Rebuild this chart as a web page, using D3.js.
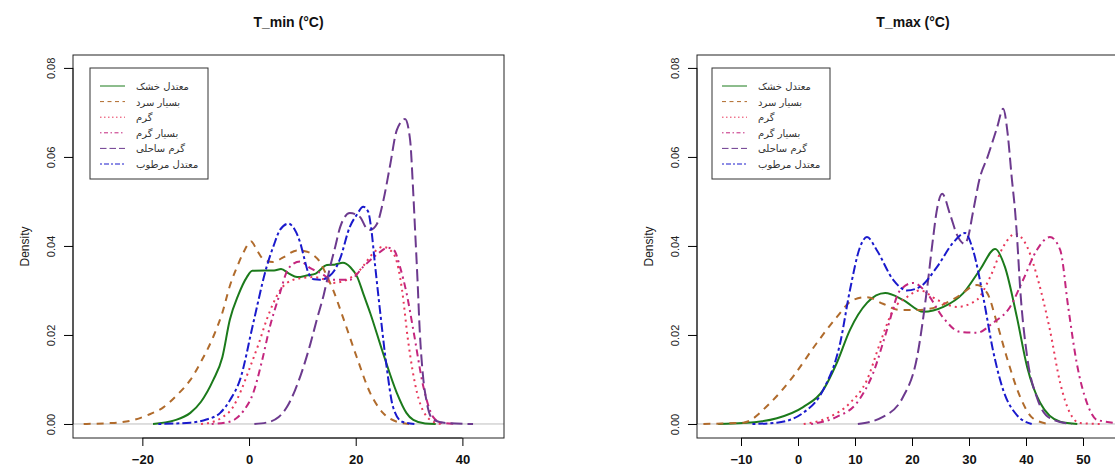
<!DOCTYPE html>
<html>
<head>
<meta charset="utf-8">
<script src="https://cdn.jsdelivr.net/npm/d3@7"></script>
<style>
  body { margin: 0; background: #fff; }
  svg { font-family: "Liberation Sans", Arial, sans-serif; }
</style>
</head>
<body>
<div id="container"></div>
<script>
// legend labels (same order in both panels)
const seriesNames = ['معتدل خشک', 'بسیار سرد', 'گرم', 'بسیار گرم', 'گرم ساحلی', 'معتدل مرطوب'];

// T_min densities, [temperature, density]
const tminKhoshk = [[-18,0],[-14,0.0008],[-11,0.0025],[-9,0.005],[-6.7,0.0099],[-5,0.015],[-3.6,0.0234],[-2,0.029],[-0.4,0.033],[0.6,0.0344],[3,0.0345],[4.7,0.0345],[6,0.0348],[7.5,0.0338],[9,0.033],[11,0.0334],[12.5,0.0338],[14.6,0.0357],[16,0.0358],[17.6,0.0362],[19,0.0352],[20.3,0.033],[21.5,0.029],[22.7,0.025],[25.1,0.016],[27.7,0.007],[29.5,0.0025],[30.8,0.0009],[33,0.0001],[35,0]];
const tminSard = [[-31,0],[-26,0.0002],[-22,0.0008],[-19,0.002],[-16,0.0038],[-13.5,0.0065],[-11,0.0099],[-9,0.014],[-6.7,0.0196],[-5,0.025],[-3.6,0.031],[-2,0.036],[-1.1,0.0384],[0.4,0.041],[1.5,0.039],[2.7,0.037],[4.5,0.0364],[6.5,0.0375],[9,0.039],[10.9,0.0387],[12,0.038],[13.3,0.0364],[14.5,0.0335],[15.8,0.03],[17.6,0.024],[20.2,0.015],[22.7,0.007],[25.1,0.0025],[27.7,0.0005],[30,0]];
const tminGarm = [[-9,0],[-6.7,0.0005],[-5,0.0015],[-3,0.0038],[-1.5,0.0075],[0.2,0.0128],[1.8,0.018],[3.3,0.0234],[4.5,0.027],[5.8,0.03],[8.3,0.0324],[10,0.0328],[12.1,0.033],[14,0.0325],[15.8,0.0317],[18.3,0.0324],[20.8,0.0346],[23.3,0.0384],[25.1,0.0398],[27,0.0384],[28,0.035],[28.7,0.03],[29.8,0.0189],[31.5,0.007],[34,0.0009],[36,0]];
const tminBesyarGarm = [[-7,0],[-4,0.0004],[-2.7,0.001],[-1,0.003],[0.8,0.007],[2.4,0.014],[3.9,0.0218],[5.8,0.0294],[7,0.034],[8.3,0.036],[9.6,0.0365],[11.5,0.035],[13.3,0.034],[15.8,0.0324],[18.9,0.0324],[21.4,0.0353],[23.9,0.038],[26,0.0396],[27.2,0.039],[28.3,0.0353],[29.6,0.029],[30.8,0.0211],[32.7,0.0083],[34.5,0.0016],[36,0.0003],[39,0]];
const tminSaheli = [[1,0],[3.9,0.0005],[5.5,0.0015],[7.1,0.0038],[8.6,0.0075],[10.2,0.0128],[11.5,0.018],[12.7,0.0234],[14,0.029],[15.2,0.0353],[16.2,0.04],[17.1,0.0443],[18.9,0.0474],[20.8,0.0465],[22,0.044],[22.7,0.0436],[24,0.045],[25.2,0.0503],[26.4,0.0578],[27.7,0.066],[29.25,0.0685],[30.2,0.0638],[30.7,0.054],[31.1,0.0443],[31.6,0.032],[32,0.021],[32.6,0.011],[33.3,0.005],[34.5,0.001],[37,0.0002],[42,0]];
const tminMartoob = [[-17,0],[-11,0.0003],[-8,0.001],[-5.4,0.0025],[-3.5,0.0055],[-1.7,0.0099],[0.8,0.0227],[3.3,0.0353],[4.6,0.04],[5.8,0.0436],[7.4,0.045],[8.5,0.0438],[9.6,0.0407],[10.4,0.037],[11.1,0.034],[12.2,0.0325],[13.3,0.0324],[14.8,0.033],[16,0.0345],[17,0.0369],[18.9,0.0443],[20.2,0.047],[21.4,0.0488],[22.3,0.0478],[22.9,0.044],[23.6,0.036],[24.6,0.025],[25.8,0.0128],[27,0.0038],[28.7,0.0005],[31,0]];

// T_max densities, [temperature, density]
const tmaxKhoshk = [[-14,0],[-9.6,0.0002],[-3.7,0.0013],[0.9,0.0038],[4.4,0.0076],[6.8,0.0137],[9.1,0.0211],[12.1,0.0272],[15.3,0.0294],[18.4,0.0279],[22,0.0252],[25.5,0.0263],[29,0.0294],[31.9,0.0346],[34.6,0.0393],[36.3,0.0353],[38.4,0.024],[40.2,0.0128],[42.5,0.0047],[46,0.0005],[49,0]];
const tmaxSard = [[-16.6,0],[-9.6,0.0003],[-4.9,0.0047],[-0.9,0.0106],[3.3,0.0182],[6.8,0.024],[9.7,0.0279],[12.1,0.0285],[14.9,0.027],[17.9,0.0256],[20.9,0.0256],[24.4,0.0263],[27.9,0.0285],[31.4,0.0312],[33.2,0.0294],[34.9,0.0227],[36.6,0.0151],[39,0.006],[41.2,0.0013],[44,0]];
const tmaxGarm = [[1,0],[5.6,0.0016],[9.1,0.0047],[12.1,0.0099],[14.4,0.0182],[16.7,0.0256],[19.1,0.0285],[21.4,0.03],[24.4,0.0279],[27.9,0.0263],[31.4,0.0279],[33.7,0.033],[36,0.0398],[38.1,0.0427],[40.2,0.0398],[42.1,0.0324],[44.2,0.0211],[46,0.0092],[47.7,0.0025],[49.5,0.0002],[53,0]];
const tmaxBesyarGarm = [[2.3,0],[6.8,0.0016],[10.3,0.0047],[13.2,0.0115],[15.6,0.0211],[17.9,0.03],[20.2,0.0317],[22.6,0.0294],[25.4,0.024],[28.4,0.0207],[31.4,0.0205],[34.2,0.0227],[37.2,0.0263],[39.5,0.0324],[41.9,0.0391],[44.2,0.042],[46,0.0391],[47.4,0.0263],[48.9,0.0137],[50.7,0.0047],[52.5,0.0009],[58,0]];
const tmaxSaheli = [[10.5,0],[14.9,0.0016],[18.4,0.006],[20.9,0.0151],[22.6,0.03],[23.7,0.0418],[24.3,0.0476],[25.3,0.0517],[26.7,0.047],[27.9,0.0425],[29.2,0.0405],[29.8,0.0418],[30.7,0.0476],[31.9,0.0553],[33.2,0.0598],[34.9,0.0665],[36,0.0708],[36.8,0.065],[37.5,0.0553],[38.1,0.0476],[38.4,0.0425],[39,0.03],[40.2,0.0151],[41.9,0.006],[44.2,0.0013],[48,0]];
const tmaxMartoob = [[-8,0],[-3.7,0.0003],[0.9,0.0025],[4.4,0.0076],[7.4,0.0182],[9.1,0.03],[10.9,0.0398],[12.1,0.042],[13.8,0.0391],[16.7,0.0324],[19.1,0.03],[21.4,0.0308],[24.4,0.0353],[27.2,0.0407],[29.3,0.0429],[30.7,0.0391],[32.5,0.0285],[34.2,0.0166],[36,0.0076],[38.4,0.002],[41,0]];

const xTicksMin = [-20, 0, 20, 40];
const xTicksMax = [-10, 0, 10, 20, 30, 40, 50];
const yTicks = [0, 0.02, 0.04, 0.06, 0.08];

const styles = [
  { color: '#1b7a1b', dash: null },
  { color: '#b06b2c', dash: [7, 6] },
  { color: '#e8385a', dash: [2, 4] },
  { color: '#c4267e', dash: [2, 4, 7, 4] },
  { color: '#6c3a8e', dash: [12, 5] },
  { color: '#1a1acc', dash: [3, 3, 9, 3] }
];

const svg = d3.select('#container')
              .append('svg')
              .attr('width', 1115)
              .attr('height', 470);

function drawPanel(opts) {
    const x = d3.scaleLinear().domain(opts.xDomain).range([opts.left, opts.right]);
    const y = d3.scaleLinear().domain([-0.00315, 0.0829]).range([438, 55]);

    const g = svg.append('g');

    // zero line
    g.append('line')
     .attr('x1', opts.left).attr('x2', opts.right)
     .attr('y1', y(0)).attr('y2', y(0))
     .attr('stroke', '#bebebe').attr('stroke-width', 1);

    const line = d3.line()
                   .x(d => x(d[0]))
                   .y(d => y(d[1]))
                   .curve(d3.curveMonotoneX);

    g.selectAll('path.dens')
     .data(opts.series)
     .enter()
     .append('path')
     .attr('class', 'dens')
     .attr('d', d => line(d))
     .attr('fill', 'none')
     .attr('stroke', (d, i) => styles[i].color)
     .attr('stroke-width', 2)
     .attr('stroke-dasharray', (d, i) => styles[i].dash ? styles[i].dash.join(',') : null);

    // box
    g.append('rect')
     .attr('x', opts.left).attr('y', 55)
     .attr('width', opts.right - opts.left).attr('height', 383)
     .attr('fill', 'none').attr('stroke', '#222').attr('stroke-width', 1);

    const xAxis = g.append('g')
                   .attr('transform', 'translate(0,438)')
                   .call(d3.axisBottom(x).tickValues(opts.xTicks).tickSize(8).tickPadding(9).tickFormat(d3.format('d')));
    xAxis.select('.domain').attr('stroke', '#222')
         .attr('d', `M${x(opts.xTicks[0])},0H${x(opts.xTicks[opts.xTicks.length - 1])}`);
    xAxis.selectAll('text').attr('font-size', 13).attr('font-weight', 'bold').attr('fill', '#111')
         .attr('font-family', '"Liberation Sans", Arial, sans-serif');

    const yAxis = g.append('g')
                   .attr('transform', `translate(${opts.left},0)`)
                   .call(d3.axisLeft(y).tickValues(yTicks).tickSize(9).tickFormat(d3.format('.2f')));
    yAxis.select('.domain').attr('stroke', '#222').attr('d', `M0,${y(0)}V${y(0.08)}`);
    yAxis.selectAll('text')
         .attr('font-size', 11).attr('fill', '#222')
         .attr('font-family', '"Liberation Sans", Arial, sans-serif')
         .attr('text-anchor', 'middle')
         .attr('transform', 'translate(-22,0) rotate(-90)')
         .attr('x', 0).attr('y', 0).attr('dy', '0.35em');

    g.append('text')
     .attr('transform', `translate(${opts.left - 44},${(55 + 438) / 2}) rotate(-90)`)
     .attr('text-anchor', 'middle')
     .attr('font-size', 12)
     .attr('fill', '#222')
     .text('Density');

    g.append('text')
     .attr('x', (opts.left + opts.right) / 2)
     .attr('y', 27)
     .attr('text-anchor', 'middle')
     .attr('font-size', 14)
     .attr('font-weight', 'bold')
     .attr('fill', '#111')
     .text(opts.title);

    // legend
    const lx = opts.legendX;
    const legend = g.append('g');
    legend.append('rect')
          .attr('x', lx).attr('y', 68)
          .attr('width', 118).attr('height', 111)
          .attr('fill', '#fff').attr('stroke', '#333').attr('stroke-width', 1);
    const rows = legend.selectAll('g.item')
                       .data(seriesNames)
                       .enter()
                       .append('g')
                       .attr('class', 'item')
                       .attr('transform', (d, i) => `translate(0,${86 + i * 15.6})`);
    rows.append('line')
        .attr('x1', lx + 10).attr('x2', lx + 35)
        .attr('y1', 0).attr('y2', 0)
        .attr('stroke', (d, i) => styles[i].color)
        .attr('stroke-width', 1)
        .attr('stroke-dasharray', (d, i) => styles[i].dash ? styles[i].dash.map(v => v / 2 + 0.5).join(',') : null);
    rows.append('text')
        .attr('x', lx + 46)
        .attr('y', 4)
        .attr('font-size', 10)
        .attr('fill', '#333')
        .attr('font-family', '"DejaVu Sans", sans-serif')
        .text(d => d);
}

drawPanel({
    title: 'T_min (°C)',
    left: 73, right: 504,
    xDomain: [-33.0, 47.8],
    xTicks: xTicksMin,
    legendX: 90,
    series: [tminKhoshk, tminSard, tminGarm, tminBesyarGarm, tminSaheli, tminMartoob]
});

drawPanel({
    title: 'T_max (°C)',
    left: 697, right: 1129,
    xDomain: [-17.72, 58.07],
    xTicks: xTicksMax,
    legendX: 712,
    series: [tmaxKhoshk, tmaxSard, tmaxGarm, tmaxBesyarGarm, tmaxSaheli, tmaxMartoob]
});
</script>
</body>
</html>
